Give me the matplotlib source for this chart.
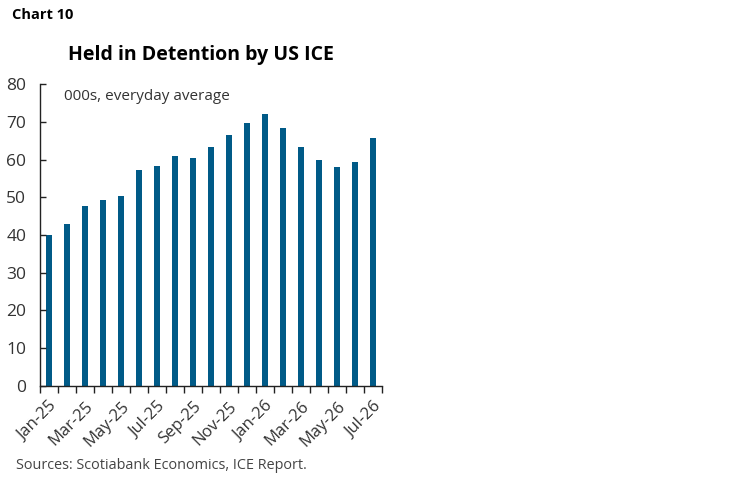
import matplotlib
matplotlib.use("Agg")
import matplotlib.pyplot as plt
import numpy as np

plt.rcParams['font.family'] = ['Open Sans', 'DejaVu Sans']

months = ['Jan-25', 'Feb-25', 'Mar-25', 'Apr-25', 'May-25', 'Jun-25', 'Jul-25',
          'Aug-25', 'Sep-25', 'Oct-25', 'Nov-25', 'Dec-25', 'Jan-26', 'Feb-26',
          'Mar-26', 'Apr-26', 'May-26', 'Jun-26', 'Jul-26']
detained = [40.1, 43.0, 47.6, 49.4, 50.2, 57.2, 58.3, 61.0, 60.3, 63.3,
            66.6, 69.6, 72.0, 68.3, 63.4, 59.8, 58.1, 59.3, 65.6]
yticks = [0, 10, 20, 30, 40, 50, 60, 70, 80]

fig = plt.figure(figsize=(7.48, 4.83), dpi=100)
ax = fig.add_axes([0.0535, 0.201, 0.457, 0.625])

x = np.arange(len(months))
ax.bar(x, detained, width=0.33, color='#005a87')

ax.set_xlim(-0.5, len(months) - 0.5)
ax.set_ylim(0, 80)
ax.set_yticks(yticks)
ax.tick_params(axis='y', direction='in', length=4, width=1, color='#222222',
               labelsize=12.5, labelcolor='#333333', pad=10)

# tick marks between categories, labels every other month
ax.set_xticks(np.arange(-0.5, len(months), 1))
ax.set_xticklabels([])
ax.tick_params(axis='x', which='major', direction='out', length=5, width=1, color='#222222')
ax.set_xticks(x[::2], minor=True)
ax.set_xticklabels(months[::2], minor=True, rotation=45, ha='right',
                   rotation_mode='anchor', fontsize=12, color='#333333')
ax.tick_params(axis='x', which='minor', length=0, pad=9)

for side in ['top', 'right']:
    ax.spines[side].set_visible(False)
for side in ['left', 'bottom']:
    ax.spines[side].set_color('#222222')
    ax.spines[side].set_linewidth(1)

ax.text(0.07, 0.985, '000s, everyday average', transform=ax.transAxes,
        fontsize=11, color='#333333', va='top', ha='left')

fig.text(0.016, 0.968, 'Chart 10', fontsize=10.5, fontweight='bold', va='center', ha='left')
fig.text(0.268, 0.887, 'Held in Detention by US ICE', fontsize=14, fontweight='bold',
         va='center', ha='center')
fig.text(0.022, 0.037, 'Sources: Scotiabank Economics, ICE Report.', fontsize=10.4,
         color='#444444', va='center', ha='left')

fig.savefig('out.png', dpi=100)
